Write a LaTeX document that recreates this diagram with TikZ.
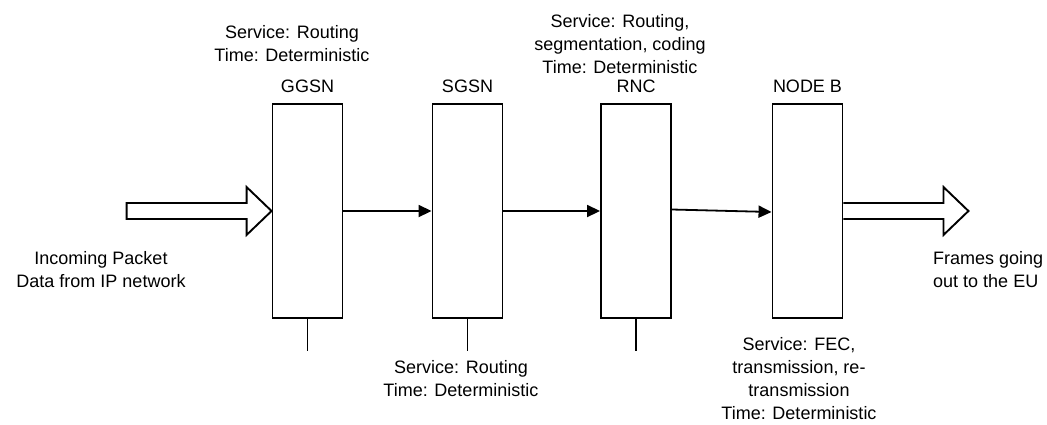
\documentclass[tikz,border=0pt]{standalone}
\usepackage{fontspec}
\setmainfont{Liberation Sans}
\usetikzlibrary{arrows.meta}
\tikzset{
  unit/.style={draw, line width=1.9pt, minimum width=70pt, minimum height=214pt, inner sep=0pt, fill=white},
  lbl/.style={font=\fontsize{18}{23}\selectfont, align=center, inner sep=0pt},
  link/.style={line width=1.8pt, -{Triangle[length=13pt,width=12pt]}},
  stem/.style={line width=1.8pt},
  fat/.style={draw, line width=1.9pt, fill=white, line join=miter}
}
\begin{document}
\begin{tikzpicture}[x=1pt,y=-1pt]
\useasboundingbox (0,0) rectangle (1047,424);

% network elements
\node[unit] (ggsn)  at (307.5,211) {};
\node[unit] (sgsn)  at (467.5,211) {};
\node[unit] (rnc)   at (636,211) {};
\node[unit] (nodeb) at (807.5,211) {};

% element names
\node[lbl] (tggsn)  at (307.5,86) {GGSN};
\node[lbl] (tsgsn)  at (467.5,86) {SGSN};
\node[lbl] (trnc)   at (636,86) {RNC};
\node[lbl] (tnodeb) at (807.5,86) {NODE B};

% service descriptions
\node[lbl] (sggsn)  at (292,44) {Service: Routing\\Time: Deterministic};
\node[lbl] (srnc)   at (620,44) {Service: Routing,\\segmentation, coding\\Time: Deterministic};
\node[lbl] (ssgsn)  at (461,378.5) {Service: Routing\\Time: Deterministic};
\node[lbl] (snodeb) at (799,378.5) {Service: FEC,\\transmission, re-\\transmission\\Time: Deterministic};

% end labels
\node[lbl] (inlbl)  at (101,270) {Incoming Packet\\Data from IP network};
\node[lbl, anchor=west, align=left] (outlbl) at (933,270) {Frames going\\out to the EU};

% stems below the boxes
\draw[stem] (ggsn.south) -- ++(0,32);
\draw[stem] (sgsn.south) -- ++(0,32);
\draw[stem] (rnc.south) -- ++(0,32);

% links between elements
\draw[link] (ggsn.east) -- (sgsn.west);
\draw[link] (sgsn.east) -- (rnc.west);
\draw[link] ([yshift=1.5pt]rnc.east) -- ([yshift=-1pt]nodeb.west);

% incoming block arrow
\draw[fat, shift={(ggsn.west)}]
  (-145,-8) -- (-25,-8) -- (-25,-24) -- (0,0) -- (-25,24) -- (-25,8) -- (-145,8) -- cycle;

% outgoing block arrow
\draw[fat, shift={(nodeb.east)}]
  (0,-8) -- (100,-8) -- (100,-24) -- (125,0) -- (100,24) -- (100,8) -- (0,8);
\end{tikzpicture}
\end{document}
